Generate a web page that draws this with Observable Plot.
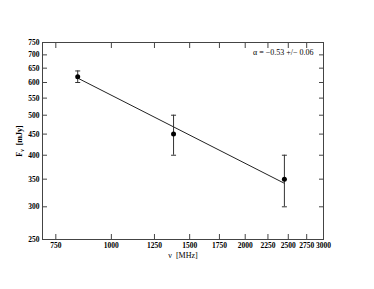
<!DOCTYPE html>
<html>
<head>
<meta charset="utf-8">
<script src="https://cdn.jsdelivr.net/npm/d3@7"></script>
<script src="https://cdn.jsdelivr.net/npm/@observablehq/plot@0.6"></script>
<style>
  html, body { margin: 0; padding: 0; background: #fff; }
  svg { font-family: "Liberation Serif", serif; }
</style>
</head>
<body>
<div id="chart"></div>
<script>
// Data
const freq = [840, 1380, 2450];          // MHz
const flux = [620, 450, 350];            // mJy
const errLo = [600, 400, 300];
const errHi = [640, 500, 400];
const fitFreq = [840, 2450];
const fitFlux = [615, 342];
const xTicks = [750, 1000, 1250, 1500, 1750, 2000, 2250, 2500, 2750, 3000];
const yTicks = [250, 300, 350, 400, 450, 500, 550, 600, 650, 700, 750];
const annotation = "α = −0.53 +/− 0.06";

const pts = freq.map((f, i) => ({f, F: flux[i], lo: errLo[i], hi: errHi[i]}));
const fit = fitFreq.map((f, i) => ({f, F: fitFlux[i]}));

const capSymbol = {
  draw(context, size) {
    const w = 2.5;
    context.moveTo(-w, 0);
    context.lineTo(w, 0);
  }
};

const axisColor = "#444";
const tickFont = {fontSize: 7.5, fontWeight: "bold"};

const chart = Plot.plot({
  width: 374,
  height: 289,
  marginLeft: 42,
  marginRight: 51,
  marginTop: 42,
  marginBottom: 50,
  style: {fontFamily: "Liberation Serif, serif", background: "#fff", color: "#000"},
  x: {type: "log", domain: [700, 3000]},
  y: {type: "log", domain: [250, 750]},
  marks: [
    Plot.frame({stroke: axisColor, strokeWidth: 1}),
    // inward ticks
    Plot.axisX({anchor: "bottom", ticks: xTicks, tickSize: -5, text: null, label: null, stroke: axisColor}),
    Plot.axisX({anchor: "top", ticks: xTicks, tickSize: -5, text: null, label: null, stroke: axisColor}),
    Plot.axisY({anchor: "left", ticks: yTicks, tickSize: -5, text: null, label: null, stroke: axisColor}),
    Plot.axisY({anchor: "right", ticks: yTicks, tickSize: -5, text: null, label: null, stroke: axisColor}),
    // tick labels
    Plot.axisX({anchor: "bottom", ticks: xTicks, tickSize: 0, tickPadding: 3, tickFormat: d => String(d), label: null, ...tickFont}),
    Plot.axisY({anchor: "left", ticks: yTicks, tickSize: 0, tickPadding: 3, tickFormat: d => String(d), label: null, ...tickFont}),
    // fit line
    Plot.line(fit, {x: "f", y: "F", stroke: "#222", strokeWidth: 1}),
    // error bars
    Plot.ruleX(pts, {x: "f", y1: "lo", y2: "hi", stroke: "#333", strokeWidth: 1}),
    Plot.dot(pts, {x: "f", y: "lo", symbol: capSymbol, stroke: "#333", strokeWidth: 1, r: 3}),
    Plot.dot(pts, {x: "f", y: "hi", symbol: capSymbol, stroke: "#333", strokeWidth: 1, r: 3}),
    // points
    Plot.dot(pts, {x: "f", y: "F", r: 2.5, fill: "#000", stroke: null}),
    // annotation
    Plot.text([annotation], {frameAnchor: "top-right", dx: -10, dy: 7, textAnchor: "end", fontSize: 8, fill: "#000"})
  ]
});

// axis labels with subscript
const svg = d3.select(chart);
svg.append("text")
  .attr("transform", "translate(22,141) rotate(-90)")
  .attr("text-anchor", "middle")
  .attr("font-size", 8)
  .attr("font-weight", "bold")
  .attr("fill", "#000")
  .style("white-space", "pre")
  .call(t => {
    t.append("tspan").text("F");
    t.append("tspan").attr("font-size", 5.5).attr("dy", 2).text("ν");
    t.append("tspan").attr("dy", -2).text("  [mJy]");
  });
svg.append("text")
  .attr("x", 183)
  .attr("y", 258)
  .attr("text-anchor", "middle")
  .attr("font-size", 8)
  .attr("fill", "#000")
  .style("white-space", "pre")
  .text("ν  [MHz]");

document.getElementById("chart").appendChild(chart);
</script>
</body>
</html>
